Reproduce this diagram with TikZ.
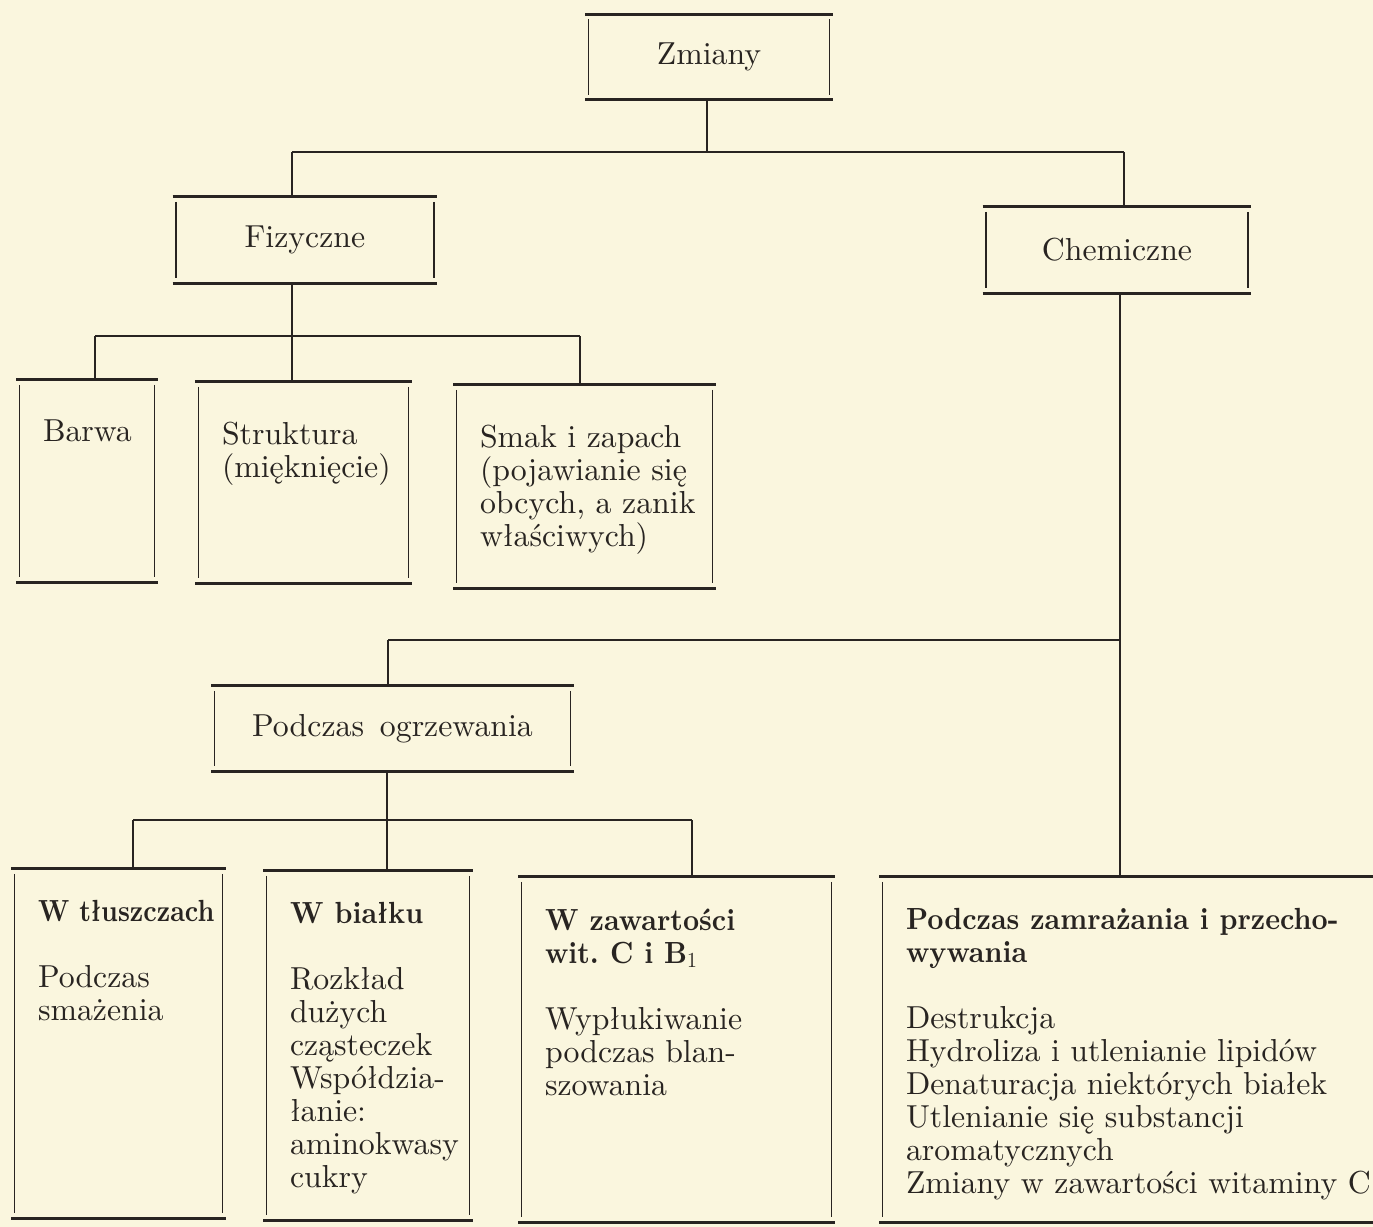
\documentclass[tikz,border=0pt]{standalone}
\usepackage{graphicx}
\usepackage{fontspec}
\setmainfont{lmroman10-regular.otf}[BoldFont=lmroman10-bold.otf]
\definecolor{papier}{RGB}{250,246,222}
\definecolor{tusz}{RGB}{40,36,33}
\newcommand{\pole}[4]{\parbox[c][#2][t]{#1}{\raggedright\leftskip=0.46cm\vspace*{#3}#4}}
\newcommand{\nagl}[2][0.92]{\scalebox{#1}[1]{\fontsize{17.4}{18.8}\selectfont\bfseries #2}}
\tikzset{
  gruba/.style={draw=tusz, line width=1.6pt},
  cienka/.style={draw=tusz, line width=0.8pt},
  ramka/.style={inner sep=0pt, append after command={
    ([xshift=-2pt]\tikzlastnode.north west) edge[gruba] ([xshift=2pt]\tikzlastnode.north east)
    ([xshift=-2pt]\tikzlastnode.south west) edge[gruba] ([xshift=2pt]\tikzlastnode.south east)
    ([yshift=-3pt]\tikzlastnode.north west) edge[cienka] ([yshift=3pt]\tikzlastnode.south west)
    ([yshift=-3pt]\tikzlastnode.north east) edge[cienka] ([yshift=3pt]\tikzlastnode.south east)}},
  belka/.style={gruba},
  pion/.style={cienka}
}
\begin{document}
\begin{tikzpicture}[x=0.02cm, y=-0.02cm,
    every node/.style={text=tusz, font=\fontsize{18.1}{18.8}\selectfont}]
\fill[papier] (0,0) rectangle (1373,1227);
\useasboundingbox (0,0) rectangle (1373,1227);

\node[ramka, minimum width=4.8cm, minimum height=1.7cm] (zmiany) at (709,57) {Zmiany};
\node[ramka, minimum width=5.14cm, minimum height=1.72cm] (fizyczne) at (305,240) {Fizyczne};
\node[ramka, minimum width=5.22cm, minimum height=1.72cm] (chemiczne) at (1117,250) {Chemiczne};

\node[ramka] (barwa) at (87,481) {\pole{2.68cm}{4.04cm}{0.8cm}{Barwa}};
\node[ramka] (struktura) at (303.5,482.5) {\pole{4.18cm}{4.02cm}{0.8cm}{Struktura\\(mięknięcie)}};
\node[ramka] (smak) at (584.5,486.5) {\pole{5.1cm}{4.06cm}{0.8cm}{Smak i zapach\\(pojawianie się\\obcych, a zanik\\właściwych)}};

\node[ramka, minimum width=7.1cm, minimum height=1.7cm] (ogrzewanie) at (392.5,728.5) {Podczas\enspace ogrzewania};

\node[ramka] (tluszcze) at (118.5,1043.5) {\pole{4.14cm}{6.98cm}{0.63cm}{\nagl[0.86]{W tłuszczach}\\[0.66cm]Podczas\\smażenia}};
\node[ramka] (bialko) at (368,1045.5) {\pole{4.04cm}{6.98cm}{0.63cm}{\nagl{W\hspace{0.4em}białku}\\[0.66cm]Rozkład\\dużych\\cząsteczek\\Współdzia-\\łanie:\\aminokwasy\\cukry}};
\node[ramka] (witaminy) at (676.5,1049.5) {\pole{6.18cm}{6.9cm}{0.63cm}{\nagl{W\hspace{0.4em}zawartości}\\\nagl{wit.\hspace{0.4em}C i B\textsubscript{\mdseries 1}}\\[0.66cm]Wypłukiwanie\\podczas blan-\\szowania}};
\node[ramka] (zamrazanie) at (1141.5,1049.5) {\pole{10.34cm}{6.9cm}{0.63cm}{\nagl{Podczas zamrażania i przecho-}\\\nagl{wywania}\\[0.66cm]Destrukcja\\Hydroliza i utlenianie lipidów\\Denaturacja niektórych białek\\Utlenianie się substancji\\aromatycznych\\Zmiany w zawartości witaminy C}};

\coordinate (a0) at (707,152);
\coordinate (a1) at (292,152);
\coordinate (a2) at (1124,152);
\draw[pion] (zmiany.south -| a0) -- (a0);
\draw[belka] (a1) -- (a2);
\foreach \k/\n in {a1/fizyczne, a2/chemiczne}
  \draw[pion] (\k) -- (\k |- \n.north);

\coordinate (b1) at (95,336);
\coordinate (b2) at (292,336);
\coordinate (b3) at (580,336);
\draw[pion] (fizyczne.south -| b2) -- (b2);
\draw[belka] (b1) -- (b3);
\foreach \k/\n in {b1/barwa, b2/struktura, b3/smak}
  \draw[pion] (\k) -- (\k |- \n.north);

\coordinate (c1) at (388,640);
\coordinate (c2) at (1120,640);
\draw[pion] (chemiczne.south -| c2) -- (c2 |- zamrazanie.north);
\draw[belka] (c1) -- (c2);
\draw[pion] (c1) -- (c1 |- ogrzewanie.north);

\coordinate (d1) at (133,820);
\coordinate (d2) at (387,820);
\coordinate (d3) at (692,820);
\draw[pion] (ogrzewanie.south -| d2) -- (d2);
\draw[belka] (d1) -- (d3);
\foreach \k/\n in {d1/tluszcze, d2/bialko, d3/witaminy}
  \draw[pion] (\k) -- (\k |- \n.north);
\end{tikzpicture}
\end{document}
